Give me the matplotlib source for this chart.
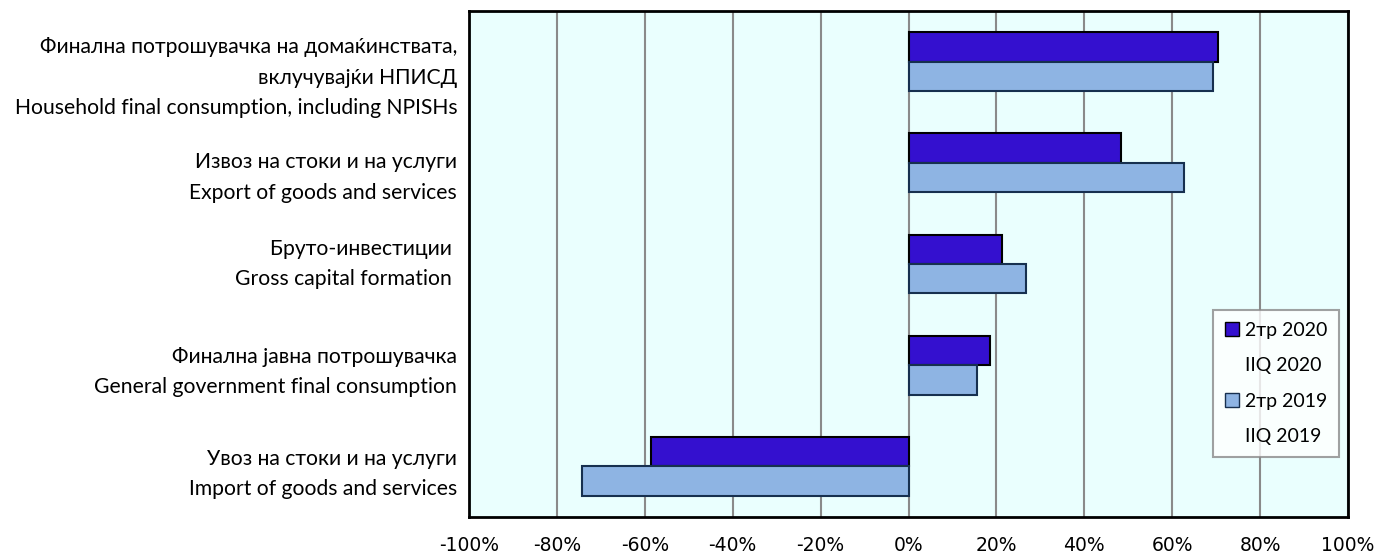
import matplotlib.pyplot as plt
import matplotlib.patches as mpatches
import matplotlib.transforms as mtransforms
import numpy as np

# categories from top to bottom
categories = [
    "Финална потрошувачка на домаќинствата,\nвклучувајќи НПИСД\nHousehold final consumption, including NPISHs",
    "Извоз на стоки и на услуги\nExport of goods and services",
    "Бруто-инвестиции \nGross capital formation ",
    "Финална јавна потрошувачка\nGeneral government final consumption",
    "Увоз на стоки и на услуги\nImport of goods and services",
]
q2_2020 = [70.5, 48.3, 21.2, 18.5, -58.6]
q2_2019 = [69.2, 62.7, 26.7, 15.5, -74.2]
series_labels = [("2тр 2020", "IIQ 2020"), ("2тр 2019", "IIQ 2019")]
x_ticks = list(range(-100, 101, 20))

# the category labels don't sit exactly on the bar pairs in the original
label_shift_pt = [-6.5, -5.5, 5, 0.5, -0.5]

plt.rcParams['font.family'] = ['Lato', 'DejaVu Sans']

fig = plt.figure(figsize=(13.89, 5.57), dpi=100)
ax = fig.add_axes([469 / 1389, 40 / 557, (1348 - 469) / 1389, (517 - 11) / 557])
ax.set_facecolor("#EAFFFE")

y = np.arange(len(categories))
h = 0.29
ax.barh(y - h / 2, q2_2020, height=h, color="#3410CF", edgecolor="black", linewidth=1.5, zorder=3)
ax.barh(y + h / 2, q2_2019, height=h, color="#8EB4E3", edgecolor="#17304F", linewidth=1.5, zorder=3)

ax.set_ylim(len(categories) - 0.5, -0.5)
ax.set_xlim(-100, 100)
ax.set_xticks(x_ticks)
ax.set_xticklabels([f"{t}%" for t in x_ticks], family=['Liberation Sans Narrow', 'DejaVu Sans'], fontsize=13.5)
ax.set_yticks(y)
ax.set_yticklabels(categories, fontsize=15.2, linespacing=1.65)
ax.tick_params(axis="both", length=0)
ax.tick_params(axis="x", pad=14)
ax.tick_params(axis="y", pad=8.5)
for lab, dy in zip(ax.get_yticklabels(), label_shift_pt):
    lab.set_transform(lab.get_transform() + mtransforms.ScaledTranslation(0, dy / 72, fig.dpi_scale_trans))
ax.grid(axis="x", color="#8A8A8A", linewidth=1.5, zorder=1)
for s in ax.spines.values():
    s.set_color("black")
    s.set_linewidth(2)

handles = [
    mpatches.Rectangle((0, 0), 1, 1, facecolor="#3410CF", edgecolor="black"),
    mpatches.Rectangle((0, 0), 1, 1, fill=False, edgecolor="none"),
    mpatches.Rectangle((0, 0), 1, 1, facecolor="#8EB4E3", edgecolor="#17304F"),
    mpatches.Rectangle((0, 0), 1, 1, fill=False, edgecolor="none"),
]
labels = [series_labels[0][0], series_labels[0][1], series_labels[1][0], series_labels[1][1]]
leg = ax.legend(handles, labels, loc="upper left", bbox_to_anchor=((1213 - 469) / 879, (517 - 310) / 506),
                fontsize=14, handlelength=0.75, handleheight=0.75, handletextpad=0.3,
                labelspacing=0.95, frameon=True, fancybox=False, borderpad=0.6, borderaxespad=0)
leg.get_frame().set_edgecolor("#8A8A8A")
leg.get_frame().set_linewidth(1.5)

fig.savefig("out.png", dpi=100)
